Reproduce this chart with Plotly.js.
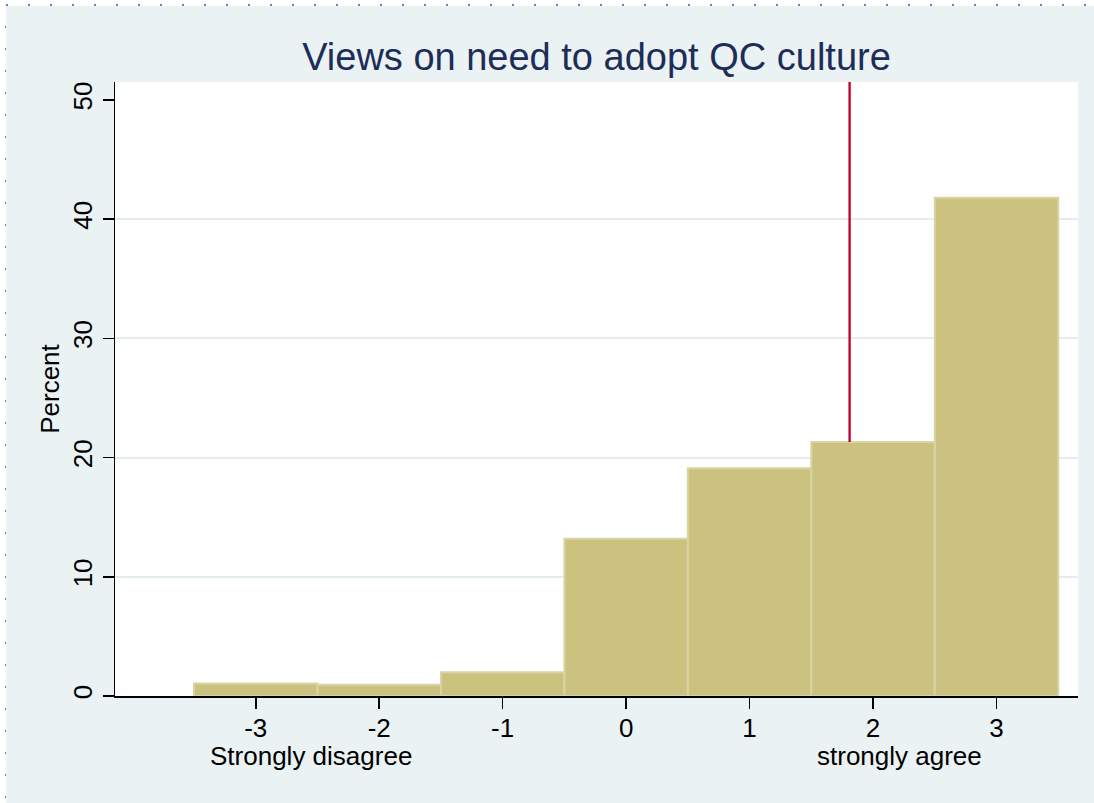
<!DOCTYPE html>
<html>
<head>
<meta charset="utf-8">
<script src="https://cdn.plot.ly/plotly-3.0.1.min.js"></script>
<style>
  html, body { margin: 0; padding: 0; background: #ffffff; width: 1094px; height: 803px; overflow: hidden; }
  #chart { position: absolute; left: 6px; top: 6px; width: 1088px; height: 797px; }
  .dots-top { position: absolute; left: 6px; top: 4px; width: 1088px; height: 2px;
    background: repeating-linear-gradient(to right, #5b7fd6 0 2px, transparent 2px 22px); }
  .dots-left { position: absolute; left: 5px; top: 26px; width: 2px; height: 777px;
    background: repeating-linear-gradient(to bottom, #5b7fd6 0 2px, transparent 2px 22px); }
</style>
</head>
<body>
<div class="dots-top"></div>
<div class="dots-left"></div>
<div id="chart"></div>
<script>
// ---- data ----
const categories = [-3, -2, -1, 0, 1, 2, 3];
const percentValues = [1.05, 0.95, 2.0, 13.2, 19.1, 21.3, 41.8];
const tickLabels = ['-3', '-2', '-1', '0', '1', '2', '3'];
const yTickValues = [0, 10, 20, 30, 40, 50];
const gridValues = [10, 20, 30, 40];
const meanValue = 1.81;
const endLabelCats = [-2.55, 2.215];
const endLabelTexts = ['Strongly disagree', 'strongly agree'];
const titleText = 'Views on need to adopt QC culture';
const yTitleText = 'Percent';

const FONT = 'Liberation Sans, Arial, Helvetica, sans-serif';
const yRange = [0, 51.5];
const xRange = [-4.14, 3.66];

// the mean line starts at the top of the bar it falls in
const meanBarTop = percentValues[categories.indexOf(Math.round(meanValue))];

const traces = [{
  type: 'bar',
  x: categories,
  y: percentValues,
  width: 1,
  marker: { color: '#cbc280', line: { color: '#d9d4a3', width: 2 } },
  hoverinfo: 'skip',
  showlegend: false
}, {
  type: 'scatter', mode: 'markers',
  x: [], y: [], yaxis: 'y2',
  hoverinfo: 'skip', showlegend: false
}];

const annotations = endLabelTexts.map((t, i) => ({
  text: t, x: endLabelCats[i], xref: 'x', y: 0, yref: 'paper',
  yanchor: 'top', xanchor: 'center', yshift: -43, showarrow: false,
  font: { family: FONT, size: 26, color: '#000000' }
}));

const layout = {
  width: 1088, height: 797,
  paper_bgcolor: '#eaf2f3',
  plot_bgcolor: '#ffffff',
  margin: { l: 109, r: 16, t: 76, b: 107, pad: 0 },
  showlegend: false,
  title: {
    text: titleText,
    font: { family: FONT, size: 38, color: '#1e2d58' },
    x: 0.5, xref: 'paper', xanchor: 'center',
    y: 0.937, yref: 'container', yanchor: 'middle'
  },
  bargap: 0,
  xaxis: {
    range: xRange,
    tickvals: categories, ticktext: tickLabels,
    ticks: 'outside', ticklen: 11, tickwidth: 1.5, tickcolor: '#000',
    ticklabelstandoff: -3,
    showline: true, linecolor: '#000', linewidth: 1.5,
    showgrid: false, zeroline: false,
    tickfont: { family: FONT, size: 26, color: '#000' },
    fixedrange: true
  },
  yaxis: {
    range: yRange,
    tickvals: yTickValues,
    tickangle: -90,
    ticks: 'outside', ticklen: 11, tickwidth: 1.5, tickcolor: '#000',
    showline: true, linecolor: '#000', linewidth: 1.5,
    showgrid: false, zeroline: false,
    tickfont: { family: FONT, size: 26, color: '#000' },
    title: { text: yTitleText, font: { family: FONT, size: 26, color: '#000' }, standoff: 1 },
    fixedrange: true
  },
  yaxis2: {
    overlaying: 'y', range: yRange,
    tickvals: gridValues, showticklabels: false, ticks: '',
    showgrid: true, gridcolor: '#e3ecef', gridwidth: 2,
    zeroline: false, showline: false, fixedrange: true
  },
  shapes: [{
    type: 'line', layer: 'above',
    x0: meanValue, x1: meanValue, xref: 'x',
    y0: meanBarTop, y1: yRange[1], yref: 'y',
    line: { color: '#c10534', width: 2.4 }
  }],
  annotations: annotations
};

Plotly.newPlot('chart', traces, layout, { displayModeBar: false, staticPlot: true });
</script>
</body>
</html>
